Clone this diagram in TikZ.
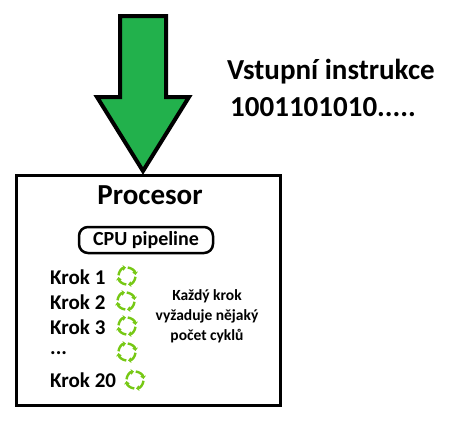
\documentclass[tikz,border=0pt]{standalone}
\usepackage{fontspec}
\setmainfont{Carlito}
\usetikzlibrary{arrows.meta,positioning}
\definecolor{arrowgreen}{RGB}{34,177,76}
\definecolor{cycgreen}{RGB}{118,200,20}
\tikzset{
  krok/.style={anchor=west,font=\fontsize{21}{21}\selectfont\bfseries,inner sep=0pt},
  cyc/.style={cycgreen,line width=2.4pt,-{Triangle[length=3pt,width=5.5pt]}}
}
% cycle icon at a named coordinate
\newcommand\cycle[1]{%
  \foreach \a in {5,95,185,275}
    \draw[cyc,shift={(#1)}] (\a:8.5) arc[start angle=\a, end angle=\a+78, radius=8.5];%
}
\begin{document}
\begin{tikzpicture}[x=1pt,y=-1pt]
    \useasboundingbox (0,0) rectangle (452,421);
    % Input arrow
    \draw[fill=arrowgreen,line width=4pt,line join=miter]
        (120,16) -- (166,16) -- (166,97) -- (189,97) -- (143,171)
        -- (97,97) -- (120,97) -- cycle;
    \node[font=\fontsize{29}{29}\selectfont\bfseries,anchor=west,inner sep=0pt] (instr) at (227,72) {Vstupní instrukce};
    \node[font=\fontsize{29}{29}\selectfont\bfseries,anchor=west,inner sep=0pt] (bits) at (230,107) {1001101010.....};

    % Processor box
    \draw[line width=3pt] (16,175) rectangle (280,405);
    \node[font=\fontsize{29}{29}\selectfont\bfseries] (proc) at (150,195) {Procesor};
    \node[draw,line width=2.5pt,rounded corners=9pt,minimum width=134pt,minimum height=26pt,
          font=\fontsize{20}{20}\selectfont\bfseries] (pipe) at (146,240) {CPU pipeline};

    % Steps
    \node[krok] (k1) at (50,277) {Krok 1};
    \node[krok] (k2) at (50,302) {Krok 2};
    \node[krok] (k3) at (50,327) {Krok 3};
    \node[krok] (kd) at (50,353) {...};
    \node[krok] (k20) at (50,380) {Krok 20};

    \coordinate (c1) at (127,276);
    \coordinate (c2) at (126,301);
    \coordinate (c3) at (127,326);
    \coordinate (c4) at (127,352);
    \coordinate (c5) at (135,380);
    \cycle{c1} \cycle{c2} \cycle{c3} \cycle{c4} \cycle{c5}

    \node[font=\fontsize{15.5}{20}\selectfont\bfseries,align=center] (note) at (207,316)
        {Každý krok\\vyžaduje nějaký\\počet cyklů};
\end{tikzpicture}
\end{document}
